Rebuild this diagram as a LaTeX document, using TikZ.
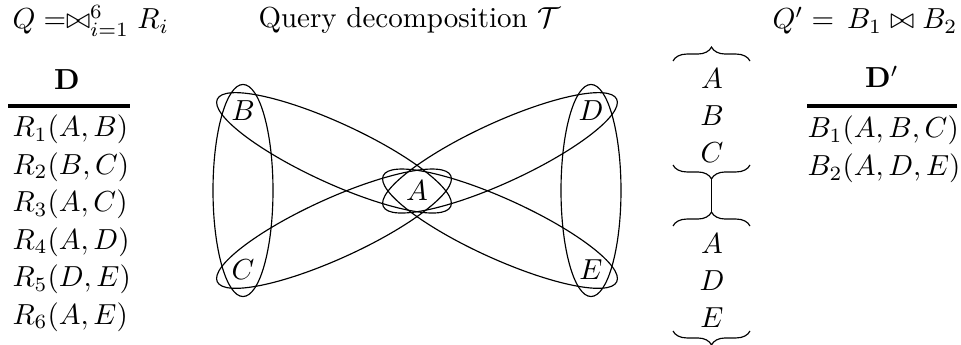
\documentclass[tikz,border=0pt]{standalone}
\usepackage{amsmath}
\usepackage{tikz}
\usetikzlibrary{calc,shapes.geometric,decorations.pathreplacing}
\tikzset{
  vtx/.style={inner sep=1pt},
  hedge/.style={draw,ellipse,thin,inner sep=0pt,minimum height=20.7pt},
  brc/.style={draw,thin,decorate,decoration={brace,amplitude=4.8pt}},
  tabrule/.style={line width=1.3pt},
  row/.style={anchor=base west,inner sep=0pt},
  bagv/.style={inner sep=1pt},
}

\begin{document}
\begin{tikzpicture}[x=0.345pt,y=-0.345pt]
  \useasboundingbox (0,0) rectangle (961,345);
  \node[row] (q) at (12,29) {$Q = \bowtie_{i=1}^{6} R_i$};
  \node[row] (qt) at (258,28) {Query decomposition $\mathcal{T}$};
  \node[row] (qp) at (772,29) {$Q' =\, B_1 \bowtie B_2$};
  % left table
  \node[anchor=base] (hd) at (67,90) {$\mathbf{D}$};
  \draw[tabrule] (8,106) -- (130,106);
  \foreach \i/\args in {1/{A,B},2/{B,C},3/{A,C},4/{A,D},5/{D,E},6/{A,E}}
    \node[row] (r\i) at (12,{137+37.5*(\i-1)}) {$R_\i(\args)$};
  % hypergraph
  \node[vtx] (A) at (417,191) {$A$};
  \node[vtx] (B) at (243,111) {$B$};
  \node[vtx] (C) at (243,270) {$C$};
  \node[vtx] (D) at (591,111) {$D$};
  \node[vtx] (E) at (591,270) {$E$};
  \foreach \u/\v/\e/\f in {B/C/9.15/0.5,D/E/9.15/0.5,B/A/11.3/0.523,C/A/11.3/0.523,D/A/11.3/0.523,E/A/11.3/0.523}
    \path let \p1=($(\v)-(\u)$), \n1={atan2(\y1,\x1)}, \n2={veclen(\x1,\y1)+2*\e*1pt} in
      node[hedge,minimum width=\n2,rotate=\n1] (h\u\v) at ($(\u)!\f!(\v)$) {};
  % bags of the decomposition
  \foreach \l [count=\k] in {A,B,C}
    \node[bagv] (ta\l) at (712,{79+37*(\k-1)}) {$\l$};
  \foreach \l [count=\k] in {A,D,E}
    \node[bagv] (tb\l) at (712,{244+37*(\k-1)}) {$\l$};
  \draw[brc] (673,61) -- (750,61);
  \draw[brc] (750,165) -- (673,165);
  \draw[brc] (673,226) -- (750,226);
  \draw[brc] (750,331) -- (673,331);
  \coordinate (ja) at (711.5,179);
  \coordinate (jb) at (711.5,212);
  \draw[thin] (ja) -- (jb);
  % right table
  \node[anchor=base] (hdp) at (882,88) {$\mathbf{D}'$};
  \draw[tabrule] (807,106) -- (957,106);
  \node[row] (b1) at (807,138) {$B_1(A,B,C)$};
  \node[row] (b2) at (807,176) {$B_2(A,D,E)$};
\end{tikzpicture}
\end{document}
